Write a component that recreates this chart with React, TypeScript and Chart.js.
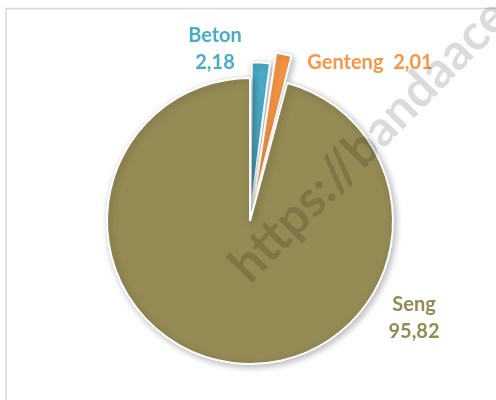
import React, { useEffect, useRef } from 'react';
import { Chart, registerables } from 'chart.js';

Chart.register(...registerables);

const categories = ['Beton', 'Genteng', 'Seng'];
const values = [2.18, 2.01, 95.82];
const colors = ['#4BACC6', '#F79646', '#948A54'];
const explode = [34, 58, 0];
const watermarkText = 'https://bandaacehkota.bps.go.id';

const fmt = (v: number) => v.toFixed(2).replace('.', ',');

// label anchor offsets relative to pie centre (layout only)
const labelLayout = [
  { dx: -35, lines: [{ t: (c: string, v: number) => c, dy: -185 }, { t: (c: string, v: number) => fmt(v), dy: -158 }] },
  { dx: 120, lines: [{ t: (c: string, v: number) => c + '  ' + fmt(v), dy: -158 }] },
  { dx: 164, lines: [{ t: (c: string, v: number) => c, dy: 84 }, { t: (c: string, v: number) => fmt(v), dy: 111 }] },
];

const framePlugin = {
  id: 'frame',
  beforeDraw(chart: any) {
    const ctx = chart.ctx;
    ctx.save();
    ctx.strokeStyle = '#d9d9d9';
    ctx.lineWidth = 1.5;
    ctx.strokeRect(6, 8.5, 700, 700);
    ctx.restore();
  },
};

const shadowPlugin = {
  id: 'shadow',
  beforeDatasetsDraw(chart: any) {
    const ctx = chart.ctx;
    ctx.save();
    ctx.shadowColor = 'rgba(0,0,0,0.28)';
    ctx.shadowBlur = 7;
    ctx.shadowOffsetX = 2;
    ctx.shadowOffsetY = 2;
  },
  afterDatasetsDraw(chart: any) {
    chart.ctx.restore();
  },
};

const labelPlugin = {
  id: 'sliceLabels',
  afterDatasetsDraw(chart: any) {
    const ctx = chart.ctx;
    const meta = chart.getDatasetMeta(0);
    ctx.save();
    ctx.font = 'bold 20px Lato';
    ctx.textAlign = 'center';
    ctx.textBaseline = 'middle';
    meta.data.forEach((arc: any, i: number) => {
      const { x, y } = arc.getProps(['x', 'y'], true);
      const lay = labelLayout[i];
      ctx.fillStyle = colors[i];
      lay.lines.forEach((ln) => {
        ctx.fillText(ln.t(categories[i], values[i]), x + lay.dx, y + ln.dy);
      });
    });
    ctx.restore();
  },
};

const watermarkPlugin = {
  id: 'watermark',
  afterDraw(chart: any) {
    const ctx = chart.ctx;
    ctx.save();
    ctx.translate(250, 285);
    ctx.rotate((-45.5 * Math.PI) / 180);
    ctx.font = 'bold 50px Lato';
    ctx.fillStyle = 'rgba(0,0,0,0.14)';
    ctx.textAlign = 'left';
    ctx.textBaseline = 'alphabetic';
    ctx.fillText(watermarkText, 0, 0);
    ctx.restore();
  },
};

export default function App() {
  const ref = useRef<HTMLCanvasElement | null>(null);
  useEffect(() => {
    if (!ref.current) return;
    const chart = new Chart(ref.current, {
      type: 'pie',
      data: {
        labels: categories,
        datasets: [
          {
            data: values,
            backgroundColor: colors,
            borderColor: '#ffffff',
            borderWidth: 2,
            offset: explode,
          },
        ],
      },
      options: {
        animation: false,
        responsive: true,
        maintainAspectRatio: false,
        radius: 143,
        layout: { padding: { left: 4, right: 0, top: 42, bottom: 0 } },
        plugins: {
          legend: { display: false },
          tooltip: { enabled: false },
        },
      } as any,
      plugins: [framePlugin, shadowPlugin, labelPlugin, watermarkPlugin],
    });
    return () => chart.destroy();
  }, []);
  return (
    <div style={{ position: 'absolute', left: 0, top: 0, width: 496, height: 400, background: '#fff' }}>
      <canvas ref={ref} />
    </div>
  );
}
